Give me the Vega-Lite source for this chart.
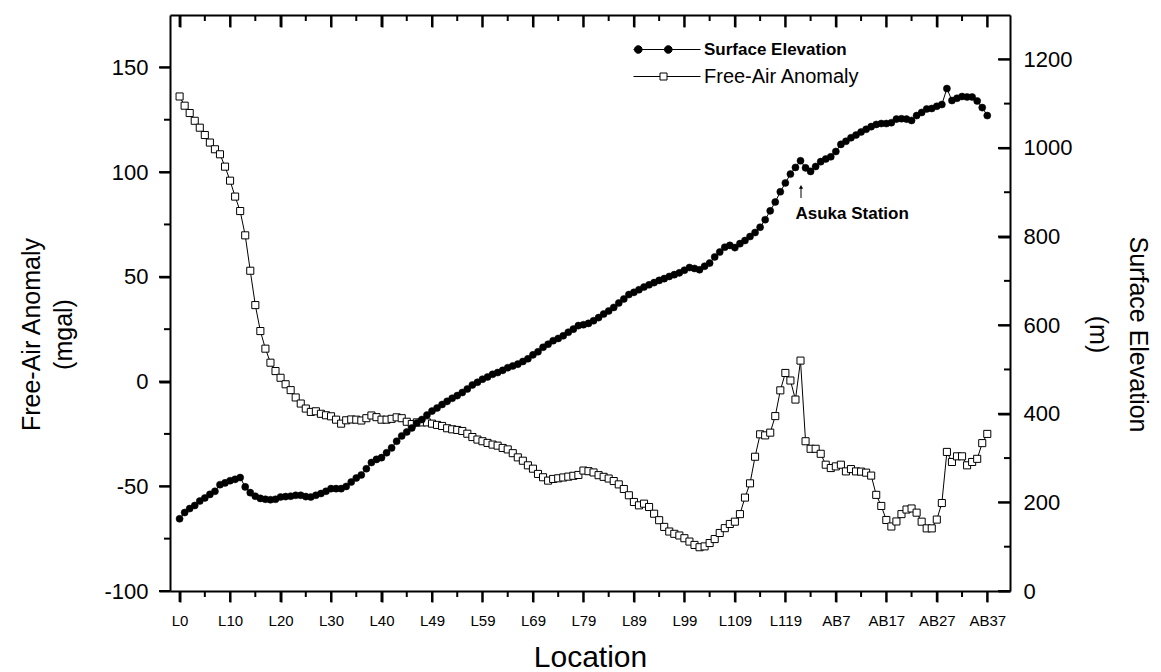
{
  "$schema": "https://vega.github.io/schema/vega-lite/v6.json",
  "width": 840,
  "height": 576,
  "autosize": "none",
  "padding": {"left": 170, "top": 15, "right": 151, "bottom": 81},
  "background": "white",
  "config": {
    "view": {"stroke": null},
    "font": "Liberation Sans",
    "axis": {
      "ticks": true, "domainColor": "black", "domainWidth": 2, "tickColor": "black", "tickWidth": 2, "tickOpacity": 1,
      "labelColor": "black", "titleColor": "black", "labelFont": "Liberation Sans", "titleFont": "Liberation Sans",
      "titleFontWeight": "normal", "grid": false
    }
  },
  "datasets": {
    "profile": [
      {"idx":0,"anomaly":136.1,"elevation":163},{"idx":1,"anomaly":131.7,"elevation":177},{"idx":2,"anomaly":128.2,"elevation":186},{"idx":3,"anomaly":124.5,"elevation":193},{"idx":4,"anomaly":121.2,"elevation":203},{"idx":5,"anomaly":117.7,"elevation":210},{"idx":6,"anomaly":114.1,"elevation":218},{"idx":7,"anomaly":110.9,"elevation":225},{"idx":8,"anomaly":108.5,"elevation":240},{"idx":9,"anomaly":102.6,"elevation":244},
      {"idx":10,"anomaly":95.9,"elevation":249},{"idx":11,"anomaly":88.3,"elevation":252},{"idx":12,"anomaly":81.4,"elevation":256},{"idx":13,"anomaly":69.8,"elevation":235},{"idx":14,"anomaly":52.9,"elevation":222},{"idx":15,"anomaly":36.5,"elevation":214},{"idx":16,"anomaly":24.1,"elevation":209},{"idx":17,"anomaly":15.7,"elevation":207},{"idx":18,"anomaly":9.0,"elevation":206},{"idx":19,"anomaly":5.0,"elevation":207},
      {"idx":20,"anomaly":1.8,"elevation":212},{"idx":21,"anomaly":-1.3,"elevation":213},{"idx":22,"anomaly":-4.1,"elevation":214},{"idx":23,"anomaly":-7.6,"elevation":216},{"idx":24,"anomaly":-10.5,"elevation":216},{"idx":25,"anomaly":-12.9,"elevation":213},{"idx":26,"anomaly":-14.5,"elevation":212},{"idx":27,"anomaly":-14.2,"elevation":216},{"idx":28,"anomaly":-15.4,"elevation":220},{"idx":29,"anomaly":-16.1,"elevation":225},
      {"idx":30,"anomaly":-16.6,"elevation":231},{"idx":31,"anomaly":-18.2,"elevation":231},{"idx":32,"anomaly":-20.1,"elevation":231},{"idx":33,"anomaly":-18.5,"elevation":236},{"idx":34,"anomaly":-18.1,"elevation":246},{"idx":35,"anomaly":-18.2,"elevation":255},{"idx":36,"anomaly":-18.6,"elevation":262},{"idx":37,"anomaly":-17.5,"elevation":276},{"idx":38,"anomaly":-16.2,"elevation":290},{"idx":39,"anomaly":-17.0,"elevation":297},
      {"idx":40,"anomaly":-18.2,"elevation":301},{"idx":41,"anomaly":-18.2,"elevation":312},{"idx":42,"anomaly":-17.8,"elevation":323},{"idx":43,"anomaly":-17.1,"elevation":338},{"idx":44,"anomaly":-17.5,"elevation":350},{"idx":45,"anomaly":-19.2,"elevation":359},{"idx":46,"anomaly":-20.3,"elevation":368},{"idx":47,"anomaly":-19.5,"elevation":379},{"idx":48,"anomaly":-19.5,"elevation":387},{"idx":49,"anomaly":-19.5,"elevation":397},
      {"idx":50,"anomaly":-20.1,"elevation":406},{"idx":51,"anomaly":-20.7,"elevation":413},{"idx":52,"anomaly":-21.2,"elevation":421},{"idx":53,"anomaly":-22.3,"elevation":428},{"idx":54,"anomaly":-22.8,"elevation":435},{"idx":55,"anomaly":-23.1,"elevation":441},{"idx":56,"anomaly":-23.6,"elevation":448},{"idx":57,"anomaly":-24.9,"elevation":456},{"idx":58,"anomaly":-26.5,"elevation":465},{"idx":59,"anomaly":-27.7,"elevation":471},
      {"idx":60,"anomaly":-28.5,"elevation":478},{"idx":61,"anomaly":-29.3,"elevation":483},{"idx":62,"anomaly":-30.1,"elevation":489},{"idx":63,"anomaly":-30.6,"elevation":493},{"idx":64,"anomaly":-31.7,"elevation":498},{"idx":65,"anomaly":-32.4,"elevation":504},{"idx":66,"anomaly":-34.2,"elevation":508},{"idx":67,"anomaly":-36.2,"elevation":512},{"idx":68,"anomaly":-37.8,"elevation":518},{"idx":69,"anomaly":-40.0,"elevation":524},
      {"idx":70,"anomaly":-41.6,"elevation":533},{"idx":71,"anomaly":-44.1,"elevation":540},{"idx":72,"anomaly":-45.7,"elevation":550},{"idx":73,"anomaly":-47.3,"elevation":557},{"idx":74,"anomaly":-46.5,"elevation":565},{"idx":75,"anomaly":-46.2,"elevation":570},{"idx":76,"anomaly":-45.8,"elevation":576},{"idx":77,"anomaly":-45.4,"elevation":584},{"idx":78,"anomaly":-45.0,"elevation":591},{"idx":79,"anomaly":-44.6,"elevation":599},
      {"idx":80,"anomaly":-42.5,"elevation":601},{"idx":81,"anomaly":-42.8,"elevation":604},{"idx":82,"anomaly":-43.4,"elevation":610},{"idx":83,"anomaly":-44.7,"elevation":617},{"idx":84,"anomaly":-45.5,"elevation":625},{"idx":85,"anomaly":-46.3,"elevation":632},{"idx":86,"anomaly":-47.5,"elevation":640},{"idx":87,"anomaly":-49.1,"elevation":650},{"idx":88,"anomaly":-51.3,"elevation":659},{"idx":89,"anomaly":-54.3,"elevation":669},
      {"idx":90,"anomaly":-57.5,"elevation":674},{"idx":91,"anomaly":-59.1,"elevation":680},{"idx":92,"anomaly":-58.3,"elevation":686},{"idx":93,"anomaly":-59.9,"elevation":691},{"idx":94,"anomaly":-63.1,"elevation":696},{"idx":95,"anomaly":-66.2,"elevation":701},{"idx":96,"anomaly":-69.4,"elevation":705},{"idx":97,"anomaly":-71.6,"elevation":710},{"idx":98,"anomaly":-72.7,"elevation":714},{"idx":99,"anomaly":-73.5,"elevation":718},
      {"idx":100,"anomaly":-74.8,"elevation":724},{"idx":101,"anomaly":-76.4,"elevation":730},{"idx":102,"anomaly":-78.0,"elevation":728},{"idx":103,"anomaly":-79.1,"elevation":725},{"idx":104,"anomaly":-78.7,"elevation":733},{"idx":105,"anomaly":-77.1,"elevation":740},{"idx":106,"anomaly":-75.2,"elevation":754},{"idx":107,"anomaly":-72.3,"elevation":765},{"idx":108,"anomaly":-70.0,"elevation":776},{"idx":109,"anomaly":-68.0,"elevation":780},
      {"idx":110,"anomaly":-66.9,"elevation":775},{"idx":111,"anomaly":-63.3,"elevation":784},{"idx":112,"anomaly":-55.4,"elevation":791},{"idx":113,"anomaly":-48.6,"elevation":800},{"idx":114,"anomaly":-35.9,"elevation":809},{"idx":115,"anomaly":-25.2,"elevation":821},{"idx":116,"anomaly":-25.7,"elevation":838},{"idx":117,"anomaly":-24.4,"elevation":858},{"idx":118,"anomaly":-16.5,"elevation":878},{"idx":119,"anomaly":-4.2,"elevation":901},
      {"idx":120,"anomaly":4.1,"elevation":921},{"idx":121,"anomaly":0.5,"elevation":941},{"idx":122,"anomaly":-8.6,"elevation":956},{"idx":123,"anomaly":10.0,"elevation":971},{"idx":124,"anomaly":-28.5,"elevation":955},{"idx":125,"anomaly":-32.1,"elevation":947},{"idx":126,"anomaly":-32.1,"elevation":958},{"idx":127,"anomaly":-34.5,"elevation":969},{"idx":128,"anomaly":-39.7,"elevation":975},{"idx":129,"anomaly":-41.3,"elevation":980},
      {"idx":130,"anomaly":-40.5,"elevation":992},{"idx":131,"anomaly":-39.7,"elevation":1008},{"idx":132,"anomaly":-42.9,"elevation":1015},{"idx":133,"anomaly":-41.8,"elevation":1023},{"idx":134,"anomaly":-42.9,"elevation":1029},{"idx":135,"anomaly":-43.0,"elevation":1036},{"idx":136,"anomaly":-43.5,"elevation":1042},{"idx":137,"anomaly":-44.9,"elevation":1048},{"idx":138,"anomaly":-54.1,"elevation":1053},{"idx":139,"anomaly":-59.4,"elevation":1055},
      {"idx":140,"anomaly":-66.1,"elevation":1055},{"idx":141,"anomaly":-69.2,"elevation":1057},{"idx":142,"anomaly":-66.8,"elevation":1065},{"idx":143,"anomaly":-63.3,"elevation":1066},{"idx":144,"anomaly":-61.1,"elevation":1065},{"idx":145,"anomaly":-60.6,"elevation":1062},{"idx":146,"anomaly":-62.6,"elevation":1073},{"idx":147,"anomaly":-66.9,"elevation":1080},{"idx":148,"anomaly":-70.1,"elevation":1088},{"idx":149,"anomaly":-70.1,"elevation":1089},
      {"idx":150,"anomaly":-65.9,"elevation":1094},{"idx":151,"anomaly":-58.0,"elevation":1098},{"idx":152,"anomaly":-33.6,"elevation":1134},{"idx":153,"anomaly":-38.4,"elevation":1107},{"idx":154,"anomaly":-35.7,"elevation":1112},{"idx":155,"anomaly":-35.7,"elevation":1116},{"idx":156,"anomaly":-40.0,"elevation":1115},{"idx":157,"anomaly":-38.4,"elevation":1115},{"idx":158,"anomaly":-36.9,"elevation":1106},{"idx":159,"anomaly":-29.4,"elevation":1091},
      {"idx":160,"anomaly":-25.0,"elevation":1073}
    ],
    "xticks": [
      {"v":0,"kind":"major"},{"v":5,"kind":"minor"},{"v":10,"kind":"major"},{"v":15,"kind":"minor"},{"v":20,"kind":"major"},{"v":25,"kind":"minor"},{"v":30,"kind":"major"},{"v":35,"kind":"minor"},{"v":40,"kind":"major"},{"v":45,"kind":"minor"},
      {"v":50,"kind":"major"},{"v":55,"kind":"minor"},{"v":60,"kind":"major"},{"v":65,"kind":"minor"},{"v":70,"kind":"major"},{"v":75,"kind":"minor"},{"v":80,"kind":"major"},{"v":85,"kind":"minor"},{"v":90,"kind":"major"},{"v":95,"kind":"minor"},
      {"v":100,"kind":"major"},{"v":105,"kind":"minor"},{"v":110,"kind":"major"},{"v":115,"kind":"minor"},{"v":120,"kind":"major"},{"v":125,"kind":"minor"},{"v":130,"kind":"major"},{"v":135,"kind":"minor"},{"v":140,"kind":"major"},{"v":145,"kind":"minor"},
      {"v":150,"kind":"major"},{"v":155,"kind":"minor"},{"v":160,"kind":"major"}
    ],
    "aticks": [
      {"v":-100,"kind":"major"},{"v":-75,"kind":"minor"},{"v":-50,"kind":"major"},{"v":-25,"kind":"minor"},{"v":0,"kind":"major"},{"v":25,"kind":"minor"},{"v":50,"kind":"major"},{"v":75,"kind":"minor"},{"v":100,"kind":"major"},{"v":125,"kind":"minor"},{"v":150,"kind":"major"}
    ],
    "eticks": [
      {"v":0,"kind":"major"},{"v":100,"kind":"minor"},{"v":200,"kind":"major"},{"v":300,"kind":"minor"},{"v":400,"kind":"major"},{"v":500,"kind":"minor"},{"v":600,"kind":"major"},{"v":700,"kind":"minor"},{"v":800,"kind":"major"},{"v":900,"kind":"minor"},{"v":1000,"kind":"major"},{"v":1100,"kind":"minor"},{"v":1200,"kind":"major"}
    ],
    "annotation": [
      {"idx": 122.0, "elev": 850, "label": "Asuka Station"}
    ],
    "arrow": [
      {"idx": 123.1, "from": 887, "to": 912}
    ]
  },
  "layer": [
    {
      "mark": {"type": "rule", "stroke": "black", "strokeWidth": 1.8},
      "encoding": {
        "y": {"datum": 0, "type": "quantitative", "scale": {"domain": [-100, 175], "nice": false, "zero": false}, "axis": null}
      }
    },
    {
      "data": {"name": "profile"},
      "mark": {"type": "line", "stroke": "black", "strokeWidth": 1},
      "encoding": {
        "x": {
          "field": "idx", "type": "quantitative",
          "scale": {"domain": [-1.9, 164.5], "nice": false, "zero": false},
          "axis": {
            "orient": "bottom",
            "values": [0,10,20,30,40,50,60,70,80,90,100,110,120,130,140,150,160],
            "labelExpr": "datum.value < 130 ? 'L' + (datum.value <= 40 ? datum.value : datum.value - 1) : 'AB' + (datum.value - 123)",
            "ticks": true, "tickSize": 11, "tickColor": "black", "tickWidth": 2, "tickOpacity": 1,
            "labelFontSize": 15, "labelPadding": 11,
            "title": "Location", "titleFontSize": 30, "titlePadding": 14
          }
        },
        "y": {
          "field": "anomaly", "type": "quantitative",
          "scale": {"domain": [-100, 175], "nice": false, "zero": false},
          "axis": {
            "orient": "left",
            "values": [-100,-50,0,50,100,150],
            "labelExpr": "'' + datum.value",
            "ticks": true, "tickSize": 11, "tickColor": "black", "tickWidth": 2, "tickOpacity": 1,
            "labelFontSize": 22, "labelPadding": 11,
            "title": ["Free-Air Anomaly", "(mgal)"], "titleFontSize": 25, "titleLineHeight": 32, "titlePadding": 27, "titleY": 319
          }
        }
      }
    },
    {
      "data": {"name": "profile"},
      "mark": {"type": "point", "shape": "square", "filled": true, "stroke": "black", "strokeWidth": 1, "size": 50, "opacity": 1},
      "encoding": {
        "x": {"field": "idx", "type": "quantitative", "scale": {"domain": [-1.9, 164.5], "nice": false, "zero": false}, "axis": null},
        "y": {"field": "anomaly", "type": "quantitative", "scale": {"domain": [-100, 175], "nice": false, "zero": false}, "axis": null},
        "fill": {
          "datum": "Free-Air Anomaly", "type": "nominal",
          "scale": {"domain": ["Surface Elevation", "Free-Air Anomaly"], "range": ["black", "white"]},
          "legend": {
            "title": null, "orient": "none", "legendX": 510, "legendY": 24, "padding": 0,
            "symbolSize": 400, "symbolStrokeColor": "black", "symbolStrokeWidth": 1, "symbolOpacity": 1,
            "symbolType": {"expr": "datum.value == 'Surface Elevation' ? 'M-5.7,0L1,0M-5.6,0A0.38,0.38,0,1,0,-4.84,0A0.38,0.38,0,1,0,-5.6,0ZM-2.6,0A0.38,0.38,0,1,0,-1.84,0A0.38,0.38,0,1,0,-2.6,0Z' : 'M-5.7,0L-3.05,0M-2.35,0L1,0M-3.05,-0.35L-2.35,-0.35L-2.35,0.35L-3.05,0.35Z'"},
            "labelFont": "Liberation Sans", "labelColor": "black",
            "labelFontSize": {"expr": "datum.value == 'Surface Elevation' ? 17 : 20"},
            "labelFontWeight": {"expr": "datum.value == 'Surface Elevation' ? 'bold' : 'normal'"},
            "labelOffset": 3, "rowPadding": 8
          }
        }
      }
    },
    {
      "data": {"name": "profile"},
      "mark": {"type": "line", "stroke": "black", "strokeWidth": 1},
      "encoding": {
        "x": {
          "field": "idx", "type": "quantitative",
          "scale": {"domain": [-1.9, 164.5], "nice": false, "zero": false},
          "axis": {
            "orient": "top",
            "values": [0,10,20,30,40,50,60,70,80,90,100,110,120,130,140,150,160],
            "labels": false, "ticks": true, "tickSize": -12, "tickColor": "black", "tickWidth": 2, "tickOpacity": 1, "title": null
          }
        },
        "y": {
          "field": "elevation", "type": "quantitative",
          "scale": {"domain": [0, 1300], "nice": false, "zero": false},
          "axis": {
            "orient": "right",
            "values": [0,200,400,600,800,1000,1200],
            "format": "d",
            "ticks": true, "tickSize": -12, "tickColor": "black", "tickWidth": 2, "tickOpacity": 1,
            "labelFontSize": 22, "labelPadding": 25,
            "title": ["Surface Elevation", "(m)"], "titleFontSize": 25, "titleLineHeight": 40, "titlePadding": 13, "titleY": 319
          }
        }
      }
    },
    {
      "data": {"name": "profile"},
      "mark": {"type": "point", "shape": "circle", "filled": true, "stroke": "black", "strokeWidth": 0.5, "size": 50, "opacity": 1},
      "encoding": {
        "x": {"field": "idx", "type": "quantitative", "scale": {"domain": [-1.9, 164.5], "nice": false, "zero": false}, "axis": null},
        "y": {"field": "elevation", "type": "quantitative", "scale": {"domain": [0, 1300], "nice": false, "zero": false}, "axis": null},
        "fill": {
          "datum": "Surface Elevation", "type": "nominal",
          "scale": {"domain": ["Surface Elevation", "Free-Air Anomaly"], "range": ["black", "white"]},
          "legend": {
            "title": null, "orient": "none", "legendX": 510, "legendY": 24, "padding": 0,
            "symbolSize": 400, "symbolStrokeColor": "black", "symbolStrokeWidth": 1, "symbolOpacity": 1,
            "symbolType": {"expr": "datum.value == 'Surface Elevation' ? 'M-5.7,0L1,0M-5.6,0A0.38,0.38,0,1,0,-4.84,0A0.38,0.38,0,1,0,-5.6,0ZM-2.6,0A0.38,0.38,0,1,0,-1.84,0A0.38,0.38,0,1,0,-2.6,0Z' : 'M-5.7,0L-3.05,0M-2.35,0L1,0M-3.05,-0.35L-2.35,-0.35L-2.35,0.35L-3.05,0.35Z'"},
            "labelFont": "Liberation Sans", "labelColor": "black",
            "labelFontSize": {"expr": "datum.value == 'Surface Elevation' ? 17 : 20"},
            "labelFontWeight": {"expr": "datum.value == 'Surface Elevation' ? 'bold' : 'normal'"},
            "labelOffset": 3, "rowPadding": 8
          }
        }
      }
    },
    {
      "data": {"name": "xticks"},
      "transform": [{"filter": "datum.kind == 'major'"}],
      "mark": {"type": "tick", "orient": "vertical", "size": 11, "thickness": 2, "yOffset": 5.5, "color": "black", "opacity": 1},
      "encoding": {
        "x": {"field": "v", "type": "quantitative", "scale": {"domain": [-1.9, 164.5], "nice": false, "zero": false}, "axis": null},
        "y": {"datum": -100, "type": "quantitative", "scale": {"domain": [-100, 175], "nice": false, "zero": false}, "axis": null}
      }
    },
    {
      "data": {"name": "xticks"},
      "transform": [{"filter": "datum.kind == 'minor'"}],
      "mark": {"type": "tick", "orient": "vertical", "size": 6, "thickness": 2, "yOffset": 3, "color": "black", "opacity": 1},
      "encoding": {
        "x": {"field": "v", "type": "quantitative", "scale": {"domain": [-1.9, 164.5], "nice": false, "zero": false}, "axis": null},
        "y": {"datum": -100, "type": "quantitative", "scale": {"domain": [-100, 175], "nice": false, "zero": false}, "axis": null}
      }
    },
    {
      "data": {"name": "xticks"},
      "transform": [{"filter": "datum.kind == 'major'"}],
      "mark": {"type": "tick", "orient": "vertical", "size": 12, "thickness": 2, "yOffset": 6, "color": "black", "opacity": 1},
      "encoding": {
        "x": {"field": "v", "type": "quantitative", "scale": {"domain": [-1.9, 164.5], "nice": false, "zero": false}, "axis": null},
        "y": {"datum": 175, "type": "quantitative", "scale": {"domain": [-100, 175], "nice": false, "zero": false}, "axis": null}
      }
    },
    {
      "data": {"name": "xticks"},
      "transform": [{"filter": "datum.kind == 'minor'"}],
      "mark": {"type": "tick", "orient": "vertical", "size": 6, "thickness": 2, "yOffset": 3, "color": "black", "opacity": 1},
      "encoding": {
        "x": {"field": "v", "type": "quantitative", "scale": {"domain": [-1.9, 164.5], "nice": false, "zero": false}, "axis": null},
        "y": {"datum": 175, "type": "quantitative", "scale": {"domain": [-100, 175], "nice": false, "zero": false}, "axis": null}
      }
    },
    {
      "data": {"name": "aticks"},
      "transform": [{"filter": "datum.kind == 'major'"}],
      "mark": {"type": "tick", "orient": "horizontal", "size": 11, "thickness": 2, "xOffset": -5.5, "color": "black", "opacity": 1},
      "encoding": {
        "x": {"datum": -1.9, "type": "quantitative", "scale": {"domain": [-1.9, 164.5], "nice": false, "zero": false}, "axis": null},
        "y": {"field": "v", "type": "quantitative", "scale": {"domain": [-100, 175], "nice": false, "zero": false}, "axis": null}
      }
    },
    {
      "data": {"name": "aticks"},
      "transform": [{"filter": "datum.kind == 'minor'"}],
      "mark": {"type": "tick", "orient": "horizontal", "size": 6, "thickness": 2, "xOffset": -3, "color": "black", "opacity": 1},
      "encoding": {
        "x": {"datum": -1.9, "type": "quantitative", "scale": {"domain": [-1.9, 164.5], "nice": false, "zero": false}, "axis": null},
        "y": {"field": "v", "type": "quantitative", "scale": {"domain": [-100, 175], "nice": false, "zero": false}, "axis": null}
      }
    },
    {
      "data": {"name": "eticks"},
      "transform": [{"filter": "datum.kind == 'major'"}],
      "mark": {"type": "tick", "orient": "horizontal", "size": 12, "thickness": 2, "xOffset": -6, "color": "black", "opacity": 1},
      "encoding": {
        "x": {"datum": 164.5, "type": "quantitative", "scale": {"domain": [-1.9, 164.5], "nice": false, "zero": false}, "axis": null},
        "y": {"field": "v", "type": "quantitative", "scale": {"domain": [0, 1300], "nice": false, "zero": false}, "axis": null}
      }
    },
    {
      "data": {"name": "eticks"},
      "transform": [{"filter": "datum.kind == 'minor'"}],
      "mark": {"type": "tick", "orient": "horizontal", "size": 6, "thickness": 2, "xOffset": -3, "color": "black", "opacity": 1},
      "encoding": {
        "x": {"datum": 164.5, "type": "quantitative", "scale": {"domain": [-1.9, 164.5], "nice": false, "zero": false}, "axis": null},
        "y": {"field": "v", "type": "quantitative", "scale": {"domain": [0, 1300], "nice": false, "zero": false}, "axis": null}
      }
    },
    {
      "data": {"name": "arrow"},
      "mark": {"type": "rule", "stroke": "black", "strokeWidth": 1},
      "encoding": {
        "x": {"field": "idx", "type": "quantitative", "scale": {"domain": [-1.9, 164.5], "nice": false, "zero": false}, "axis": null},
        "y": {"field": "from", "type": "quantitative", "scale": {"domain": [0, 1300], "nice": false, "zero": false}, "axis": null},
        "y2": {"field": "to"}
      }
    },
    {
      "data": {"name": "arrow"},
      "mark": {"type": "point", "shape": "triangle-up", "filled": true, "color": "black", "size": 18, "opacity": 1},
      "encoding": {
        "x": {"field": "idx", "type": "quantitative", "scale": {"domain": [-1.9, 164.5], "nice": false, "zero": false}, "axis": null},
        "y": {"field": "to", "type": "quantitative", "scale": {"domain": [0, 1300], "nice": false, "zero": false}, "axis": null}
      }
    },
    {
      "data": {"name": "annotation"},
      "mark": {"type": "text", "align": "left", "baseline": "middle", "font": "Liberation Sans", "fontWeight": "bold", "fontSize": 17, "color": "black"},
      "encoding": {
        "x": {"field": "idx", "type": "quantitative", "scale": {"domain": [-1.9, 164.5], "nice": false, "zero": false}, "axis": null},
        "y": {"field": "elev", "type": "quantitative", "scale": {"domain": [0, 1300], "nice": false, "zero": false}, "axis": null},
        "text": {"field": "label"}
      }
    }
  ],
  "resolve": {
    "scale": {"x": "independent", "y": "independent"},
    "axis": {"x": "independent", "y": "independent"}
  }
}
